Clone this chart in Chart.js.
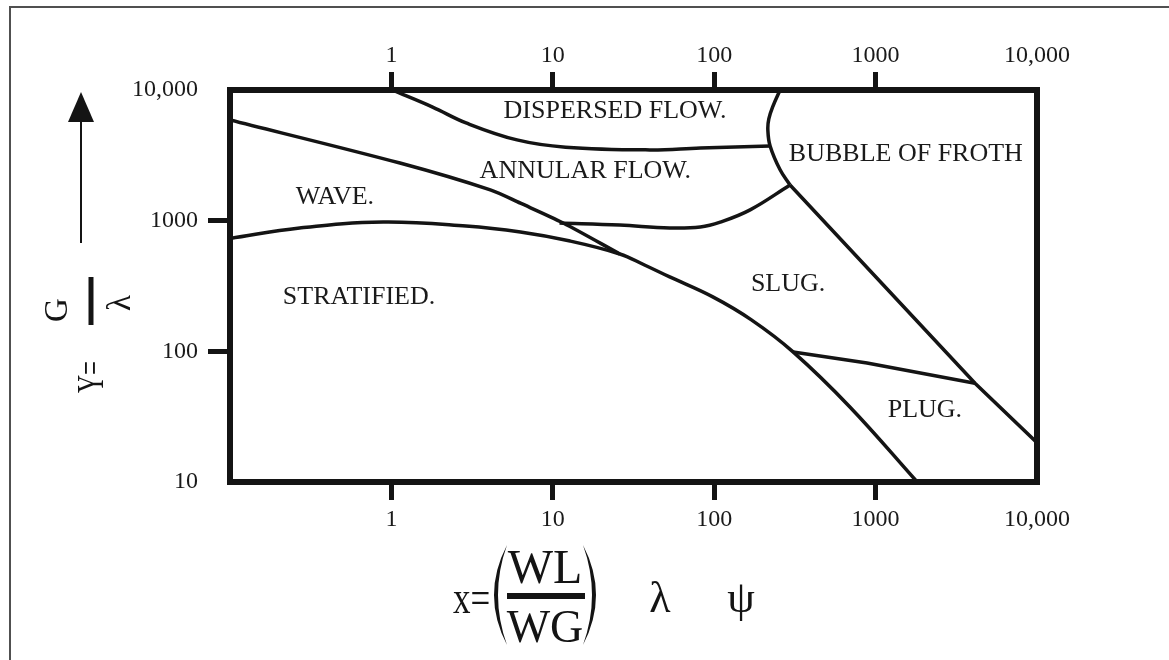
<!DOCTYPE html>
<html>
<head>
<meta charset="utf-8">
<title>Baker flow regime chart</title>
<script src="https://cdn.jsdelivr.net/npm/chart.js@4.4.1/dist/chart.umd.min.js"></script>
<style>
    html, body { margin: 0; padding: 0; background: #fff; }
    #chartContainer { width: 1169px; height: 660px; position: relative; }
</style>
</head>
<body>
<div id="chartContainer"><canvas id="myChart"></canvas></div>
<script>
// Tick values and labels
const xTickValues = [1, 10, 100, 1000, 10000];
const xTickLabels = ['1', '10', '100', '1000', '10,000'];
const yTickValues = [10, 100, 1000, 10000];
const yTickLabels = ['10', '100', '1000', '10,000'];

// Boundary lines
const dispersedAnnularX = [1.01, 1.8, 2.9, 6.0, 12, 40, 82, 222];
const dispersedAnnularY = [10000, 7400, 5600, 4150, 3650, 3480, 3600, 3730];

const bubbleDispersedX = [256, 232, 218, 215, 222, 256, 295];
const bubbleDispersedY = [10000, 7600, 6000, 4950, 3730, 2450, 1875];

const annularSlugX = [11, 26, 53, 82, 109, 167, 295];
const annularSlugY = [960, 925, 880, 895, 975, 1210, 1875];

const bubbleSlugX = [295, 4130, 10000];
const bubbleSlugY = [1875, 57, 20];

const slugPlugX = [308, 885, 4130];
const slugPlugY = [99, 81.5, 57];

const stratifiedX = [0.1, 0.27, 0.89, 2.9, 6.3, 12.8, 26, 37, 53, 98, 170, 308, 693, 1810];
const stratifiedY = [730, 880, 977, 910, 818, 698, 556, 458, 371, 261, 174, 99, 37.5, 10];

const waveAnnularX = [0.1, 1.13, 4.1, 6.3, 11.6, 26];
const waveAnnularY = [5900, 2760, 1720, 1360, 960, 556];

// Region names
const regionNames = ['DISPERSED FLOW.', 'ANNULAR FLOW.', 'BUBBLE OF FROTH', 'WAVE.', 'STRATIFIED.', 'SLUG.', 'PLUG.'];
const regionX = [24.3, 15.9, 1540, 0.447, 0.63, 287, 2020];
const regionY = [6900, 2400, 3240, 1520, 261, 327, 35.6];

const ink = '#141414';
const serif = '"Liberation Serif", "DejaVu Serif", serif';

function toPoints(xs, ys) {
    return xs.map((x, i) => ({ x: x, y: ys[i] }));
}

const lineStyle = { borderColor: ink, borderWidth: 3.5, pointRadius: 0, showLine: true, fill: false };

const datasets = [
    { label: 'dispersed/annular', data: toPoints(dispersedAnnularX, dispersedAnnularY), tension: 0.4 },
    { label: 'bubble/dispersed', data: toPoints(bubbleDispersedX, bubbleDispersedY), tension: 0.4 },
    { label: 'annular/slug', data: toPoints(annularSlugX, annularSlugY), tension: 0.4 },
    { label: 'bubble/slug', data: toPoints(bubbleSlugX, bubbleSlugY), tension: 0 },
    { label: 'slug/plug', data: toPoints(slugPlugX, slugPlugY), tension: 0 },
    { label: 'stratified', data: toPoints(stratifiedX, stratifiedY), tension: 0.4 },
    { label: 'wave/annular', data: toPoints(waveAnnularX, waveAnnularY), tension: 0.3 }
].map(d => Object.assign({}, lineStyle, d));

// text helper with optional stretch
function drawText(ctx, text, x, y, size, sx, sy) {
    ctx.save();
    ctx.translate(x, y);
    ctx.scale(sx || 1, sy || 1);
    ctx.font = size + 'px ' + serif;
    ctx.fillText(text, 0, 0);
    ctx.restore();
}

const extras = {
    id: 'extras',
    beforeDraw(chart) {
        const ctx = chart.ctx;
        ctx.save();
        ctx.fillStyle = '#fff';
        ctx.fillRect(0, 0, chart.width, chart.height);
        // outer frame, only top and left edges are in view
        ctx.strokeStyle = '#505050';
        ctx.lineWidth = 2;
        ctx.beginPath();
        ctx.moveTo(10, chart.height);
        ctx.lineTo(10, 7);
        ctx.lineTo(chart.width, 7);
        ctx.stroke();
        ctx.restore();
    },
    afterDatasetsDraw(chart) {
        const ctx = chart.ctx;
        const a = chart.chartArea;
        const sx = chart.scales.x, sy = chart.scales.y;
        ctx.save();
        // plot frame
        ctx.strokeStyle = ink;
        ctx.lineWidth = 6;
        ctx.strokeRect(a.left, a.top, a.right - a.left, a.bottom - a.top);

        // region names
        ctx.fillStyle = '#1a1a1a';
        ctx.font = '26px ' + serif;
        ctx.textAlign = 'center';
        ctx.textBaseline = 'middle';
        regionNames.forEach((t, i) => {
            ctx.fillText(t, sx.getPixelForValue(regionX[i]), sy.getPixelForValue(regionY[i]));
        });

        // y title: arrow + Y = G / lambda, rotated
        ctx.strokeStyle = ink;
        ctx.fillStyle = ink;
        ctx.lineWidth = 2;
        ctx.beginPath();
        ctx.moveTo(81, 243);
        ctx.lineTo(81, 115);
        ctx.stroke();
        ctx.beginPath();
        ctx.moveTo(81, 92);
        ctx.lineTo(68, 122);
        ctx.lineTo(94, 122);
        ctx.closePath();
        ctx.fill();

        ctx.save();
        ctx.translate(91, 330);
        ctx.rotate(-Math.PI / 2);
        ctx.textAlign = 'center';
        ctx.textBaseline = 'alphabetic';
        drawText(ctx, 'Y=', -47, 12, 25, 1, 1.55);
        drawText(ctx, 'G', 20, -24, 33);
        drawText(ctx, 'λ', 27, 39, 33);
        ctx.lineWidth = 5;
        ctx.beginPath();
        ctx.moveTo(5, 0);
        ctx.lineTo(53, 0);
        ctx.stroke();
        ctx.restore();

        // x title: x = (WL / WG) lambda psi
        ctx.textAlign = 'left';
        ctx.textBaseline = 'alphabetic';
        drawText(ctx, 'x=', 453, 613, 35, 1, 1.3);
        ctx.textAlign = 'center';
        drawText(ctx, 'WL', 545, 583, 48);
        drawText(ctx, 'WG', 545, 642, 46);
        ctx.lineWidth = 6;
        ctx.beginPath();
        ctx.moveTo(507, 596);
        ctx.lineTo(585, 596);
        ctx.stroke();
        // parentheses
        ctx.beginPath();
        ctx.moveTo(507, 545);
        ctx.quadraticCurveTo(481, 595, 507, 645);
        ctx.quadraticCurveTo(489, 595, 507, 545);
        ctx.fill();
        ctx.beginPath();
        ctx.moveTo(583, 545);
        ctx.quadraticCurveTo(609, 595, 583, 645);
        ctx.quadraticCurveTo(601, 595, 583, 545);
        ctx.fill();
        drawText(ctx, 'λ', 660, 612, 44);
        drawText(ctx, 'ψ', 741, 612, 44);
        ctx.restore();
    }
};

const edgeX = [0.1, 10000];
const edgeY = [10, 10000];

function tickColor(edges) {
    return c => (c.tick && edges.includes(c.tick.value)) ? 'rgba(0,0,0,0)' : ink;
}

function xAxis(position, height, pad) {
    return {
        type: 'logarithmic',
        position: position,
        min: 0.1,
        max: 10000,
        afterBuildTicks: axis => { axis.ticks = xTickValues.map(v => ({ value: v })); },
        afterFit: axis => { axis.height = height; },
        border: { display: false },
        grid: {
            drawOnChartArea: false,
            drawTicks: true,
            tickLength: 18,
            tickWidth: 5,
            lineWidth: 5,
            color: tickColor(edgeX),
            tickColor: tickColor(edgeX)
        },
        ticks: {
            autoSkip: false,
            maxRotation: 0,
            padding: pad,
            color: '#1a1a1a',
            font: { family: serif, size: 24 },
            callback: (v, i) => xTickLabels[i]
        }
    };
}

const ctx = document.getElementById('myChart').getContext('2d');
const myChart = new Chart(ctx, {
    type: 'scatter',
    data: { datasets: datasets },
    options: {
        responsive: true,
        maintainAspectRatio: false,
        animation: false,
        layout: { padding: { left: 0, right: 132, top: 0, bottom: 0 } },
        plugins: { legend: { display: false }, tooltip: { enabled: false } },
        scales: {
            x: xAxis('bottom', 660 - 482, 5),
            x2: xAxis('top', 90, 2),
            y: {
                type: 'logarithmic',
                position: 'left',
                min: 10,
                max: 10000,
                afterBuildTicks: axis => { axis.ticks = yTickValues.map(v => ({ value: v })); },
                afterFit: axis => { axis.width = 230; },
                border: { display: false },
                grid: {
                    drawOnChartArea: false,
                    drawTicks: true,
                    tickLength: 22,
                    tickWidth: 5,
                    lineWidth: 5,
                    color: tickColor(edgeY),
                    tickColor: tickColor(edgeY)
                },
                ticks: {
                    autoSkip: false,
                    padding: 10,
                    color: '#1a1a1a',
                    font: { family: serif, size: 24 },
                    callback: (v, i) => yTickLabels[i]
                }
            }
        }
    },
    plugins: [extras]
});
</script>
</body>
</html>
